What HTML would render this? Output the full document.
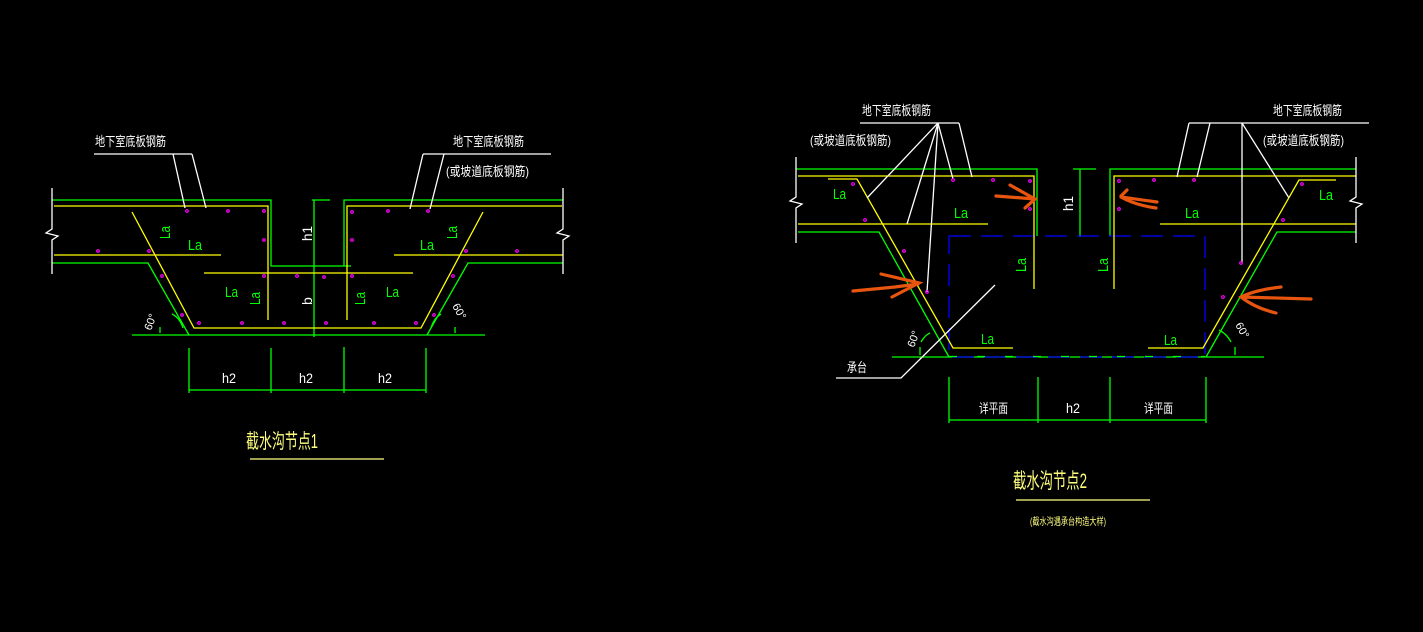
<!DOCTYPE html>
<html><head><meta charset="utf-8"><style>
html,body{margin:0;padding:0;background:#000;}
svg{display:block;}
text{font-family:"Liberation Sans","Noto Sans CJK SC",sans-serif;}
</style></head><body>
<svg width="1423" height="632" viewBox="0 0 1423 632" xmlns="http://www.w3.org/2000/svg">
<rect width="1423" height="632" fill="#000"/>
<g fill="none" stroke-width="1.3">
<!-- ===== LEFT DIAGRAM ===== -->
<g stroke="#00ff00">
<polyline points="52,200 271,200 271,266 351,266"/>
<polyline points="563,200 344,200 344,266"/>
<polyline points="52,263 148,263 189,335"/>
<polyline points="563,263 468,263 427,335"/>
<line x1="132" y1="335" x2="485" y2="335"/>
<line x1="314" y1="200" x2="314" y2="337"/>
<line x1="312" y1="200" x2="330" y2="200"/>
<line x1="189" y1="348" x2="189" y2="393"/>
<line x1="271" y1="348" x2="271" y2="393"/>
<line x1="344" y1="347" x2="344" y2="393"/>
<line x1="426" y1="348" x2="426" y2="393"/>
<line x1="189" y1="390" x2="426" y2="390"/>
<path d="M160,333 L160,327 M172,314 Q180,318 183,328"/>
<path d="M455,333 L455,327 M441,314 Q434,318 431,328"/>
</g>
<g stroke="#ffff00">
<polyline points="54,206 268,206 268,320"/>
<polyline points="562,206 347,206 347,320"/>
<line x1="54" y1="255" x2="221" y2="255"/>
<line x1="394" y1="255" x2="563" y2="255"/>
<line x1="204" y1="273" x2="413" y2="273"/>
<polyline points="132,212 194,328 421,328 483,212"/>
</g>
<g stroke="#fff">
<polyline points="52,188 52,229 46,233 58,236 52,240 52,274"/>
<polyline points="563,188 563,229 557,233 569,236 563,240 563,274"/>
<line x1="94" y1="154" x2="192" y2="154"/>
<line x1="173" y1="154" x2="185" y2="208"/>
<line x1="192" y1="154" x2="206" y2="208"/>
<line x1="423" y1="154" x2="551" y2="154"/>
<line x1="423" y1="154" x2="410" y2="209"/>
<line x1="444" y1="154" x2="430" y2="209"/>
</g>
<!-- ===== RIGHT DIAGRAM ===== -->
<g stroke="#00ff00">
<polyline points="796,169 1037,169 1037,236"/>
<polyline points="1356,169 1110,169 1110,236"/>
<polyline points="798,232 879,232 949,357"/>
<polyline points="1356,232 1277,232 1206,357"/>
<line x1="892" y1="357" x2="1264" y2="357"/>
<line x1="1080" y1="169" x2="1080" y2="237"/>
<line x1="1073" y1="169" x2="1096" y2="169"/>
<line x1="949" y1="377" x2="949" y2="423"/>
<line x1="1038" y1="377" x2="1038" y2="423"/>
<line x1="1110" y1="377" x2="1110" y2="423"/>
<line x1="1206" y1="377" x2="1206" y2="423"/>
<line x1="949" y1="420" x2="1206" y2="420"/>
<path d="M920,355 L920,347 M921,342 Q925,335 930,333"/>
<path d="M1235,355 L1235,347 M1219,330 Q1227,334 1231,342"/>
</g>
<g stroke="#0000ff">
<path d="M949,236 H1205 V357 H949 Z" stroke-dasharray="22,10"/>
</g>
<line x1="949" y1="356.5" x2="1205" y2="356.5" stroke="#00ff00" stroke-dasharray="8,20" stroke-width="1.3"/>
<g stroke="#ffff00">
<polyline points="798,176 1034,176 1034,289"/>
<polyline points="1356,176 1114,176 1114,289"/>
<line x1="798" y1="224" x2="988" y2="224"/>
<line x1="1160" y1="224" x2="1356" y2="224"/>
<polyline points="828,179 857,179 953,348 1013,348"/>
<polyline points="1336,180 1299,180 1203,348 1148,348"/>
</g>
<g stroke="#fff">
<polyline points="796,157 796,197 790,201 802,204 796,208 796,243"/>
<polyline points="1356,157 1356,197 1350,201 1362,204 1356,208 1356,243"/>
<line x1="860" y1="123" x2="959" y2="123"/>
<line x1="938" y1="123" x2="867" y2="198"/>
<line x1="938" y1="123" x2="907" y2="224"/>
<line x1="938" y1="123" x2="927" y2="292"/>
<line x1="938" y1="123" x2="953" y2="179"/>
<line x1="959" y1="123" x2="972" y2="177"/>
<line x1="1189" y1="123" x2="1369" y2="123"/>
<line x1="1189" y1="123" x2="1177" y2="177"/>
<line x1="1210" y1="123" x2="1197" y2="177"/>
<line x1="1242" y1="123" x2="1242" y2="263"/>
<line x1="1242" y1="123" x2="1289" y2="198"/>
<polyline points="836,378 901,378 995,285"/>
</g>
<!-- orange arrows -->
<g stroke="#e8550f" stroke-width="3.2" stroke-linecap="round">
<path d="M996,196 L1035,199 M1010,185 L1035,199 L1025,208"/>
<path d="M853,291 L895,287 L918,284 M881,274 L919,283 L892,297"/>
<path d="M1157,202 L1121,197 M1121,196 L1127,190 M1121,197 Q1135,205 1156,208"/>
<path d="M1311,299 L1241,297 M1281,287 Q1255,290 1241,297 Q1255,308 1276,313"/>
</g>
</g>
<!-- magenta dots -->
<g fill="none" stroke="#ff00ff" stroke-width="1.2">
<circle cx="187" cy="211" r="1.3"/><circle cx="228" cy="211" r="1.3"/><circle cx="264" cy="211" r="1.3"/>
<circle cx="264" cy="240" r="1.3"/><circle cx="98" cy="251" r="1.3"/><circle cx="149" cy="251" r="1.3"/>
<circle cx="162" cy="276" r="1.3"/><circle cx="264" cy="276" r="1.3"/><circle cx="297" cy="276" r="1.3"/>
<circle cx="324" cy="277" r="1.3"/><circle cx="352" cy="276" r="1.3"/><circle cx="182" cy="315" r="1.3"/>
<circle cx="199" cy="323" r="1.3"/><circle cx="242" cy="323" r="1.3"/><circle cx="284" cy="323" r="1.3"/>
<circle cx="326" cy="323" r="1.3"/><circle cx="374" cy="323" r="1.3"/><circle cx="416" cy="323" r="1.3"/>
<circle cx="434" cy="315" r="1.3"/><circle cx="453" cy="276" r="1.3"/><circle cx="466" cy="251" r="1.3"/>
<circle cx="517" cy="251" r="1.3"/><circle cx="352" cy="212" r="1.3"/><circle cx="388" cy="211" r="1.3"/>
<circle cx="428" cy="211" r="1.3"/><circle cx="352" cy="240" r="1.3"/>
<circle cx="853" cy="184" r="1.3"/><circle cx="953" cy="180" r="1.3"/><circle cx="993" cy="180" r="1.3"/>
<circle cx="1030" cy="181" r="1.3"/><circle cx="1030" cy="209" r="1.3"/><circle cx="865" cy="220" r="1.3"/>
<circle cx="904" cy="251" r="1.3"/><circle cx="927" cy="292" r="1.3"/><circle cx="1119" cy="181" r="1.3"/>
<circle cx="1154" cy="180" r="1.3"/><circle cx="1194" cy="180" r="1.3"/><circle cx="1119" cy="209" r="1.3"/>
<circle cx="1302" cy="184" r="1.3"/><circle cx="1283" cy="220" r="1.3"/><circle cx="1241" cy="263" r="1.3"/>
<circle cx="1223" cy="297" r="1.3"/>
</g>
<!-- green labels -->
<g fill="#00ff00" font-size="15">
<text x="188" y="250" textLength="14" lengthAdjust="spacingAndGlyphs">La</text>
<text x="420" y="250" textLength="14" lengthAdjust="spacingAndGlyphs">La</text>
<text x="225" y="297" textLength="13" lengthAdjust="spacingAndGlyphs">La</text>
<text x="386" y="297" textLength="13" lengthAdjust="spacingAndGlyphs">La</text>
<text transform="translate(170,239) rotate(-90)" textLength="13" lengthAdjust="spacingAndGlyphs">La</text>
<text transform="translate(457,239) rotate(-90)" textLength="13" lengthAdjust="spacingAndGlyphs">La</text>
<text transform="translate(260,305) rotate(-90)" textLength="13" lengthAdjust="spacingAndGlyphs">La</text>
<text transform="translate(365,305) rotate(-90)" textLength="13" lengthAdjust="spacingAndGlyphs">La</text>
<text x="833" y="199" textLength="13" lengthAdjust="spacingAndGlyphs">La</text>
<text x="954" y="218" textLength="14" lengthAdjust="spacingAndGlyphs">La</text>
<text x="1185" y="218" textLength="14" lengthAdjust="spacingAndGlyphs">La</text>
<text x="1319" y="200" textLength="14" lengthAdjust="spacingAndGlyphs">La</text>
<text x="981" y="344" textLength="13" lengthAdjust="spacingAndGlyphs">La</text>
<text x="1164" y="345" textLength="13" lengthAdjust="spacingAndGlyphs">La</text>
<text transform="translate(1026,272) rotate(-90)" textLength="14" lengthAdjust="spacingAndGlyphs">La</text>
<text transform="translate(1108,272) rotate(-90)" textLength="14" lengthAdjust="spacingAndGlyphs">La</text>
</g>
<!-- white labels -->
<g fill="#fff" font-size="14">
<text transform="translate(312,241) rotate(-90)" textLength="15" lengthAdjust="spacingAndGlyphs">h1</text>
<text transform="translate(312,305) rotate(-90)">b</text>
<text transform="translate(1073,211) rotate(-90)" textLength="15" lengthAdjust="spacingAndGlyphs">h1</text>
<text x="222" y="383" textLength="14" lengthAdjust="spacingAndGlyphs">h2</text>
<text x="299" y="383" textLength="14" lengthAdjust="spacingAndGlyphs">h2</text>
<text x="378" y="383" textLength="14" lengthAdjust="spacingAndGlyphs">h2</text>
<text x="1066" y="413" textLength="14" lengthAdjust="spacingAndGlyphs">h2</text>
<text x="979" y="413" font-size="13" textLength="29" lengthAdjust="spacingAndGlyphs">详平面</text>
<text x="1144" y="413" font-size="13" textLength="29" lengthAdjust="spacingAndGlyphs">详平面</text>
<text x="847" y="372" font-size="13" textLength="20" lengthAdjust="spacingAndGlyphs">承台</text>
<text x="95" y="146" font-size="13" textLength="71" lengthAdjust="spacingAndGlyphs">地下室底板钢筋</text>
<text x="453" y="146" font-size="13" textLength="71" lengthAdjust="spacingAndGlyphs">地下室底板钢筋</text>
<text x="446" y="176" font-size="13" textLength="83" lengthAdjust="spacingAndGlyphs">(或坡道底板钢筋)</text>
<text x="862" y="115" font-size="13" textLength="69" lengthAdjust="spacingAndGlyphs">地下室底板钢筋</text>
<text x="810" y="145" font-size="13" textLength="81" lengthAdjust="spacingAndGlyphs">(或坡道底板钢筋)</text>
<text x="1273" y="115" font-size="13" textLength="69" lengthAdjust="spacingAndGlyphs">地下室底板钢筋</text>
<text x="1263" y="145" font-size="13" textLength="81" lengthAdjust="spacingAndGlyphs">(或坡道底板钢筋)</text>
<text transform="translate(151,331) rotate(-70)" font-size="11">60°</text>
<text transform="translate(452,306) rotate(60)" font-size="11">60°</text>
<text transform="translate(914,348) rotate(-70)" font-size="11">60°</text>
<text transform="translate(1235,325) rotate(60)" font-size="11">60°</text>
</g>
<!-- titles -->
<g fill="#ffff80">
<text x="246" y="448" font-size="20" textLength="72" lengthAdjust="spacingAndGlyphs">截水沟节点1</text>
<text x="1013" y="488" font-size="21" textLength="74" lengthAdjust="spacingAndGlyphs">截水沟节点2</text>
<text x="1030" y="525" font-size="10" textLength="76" lengthAdjust="spacingAndGlyphs">(截水沟遇承台构造大样)</text>
</g>
<g stroke="#ffff80" stroke-width="1.2">
<line x1="250" y1="459" x2="384" y2="459"/>
<line x1="1016" y1="500" x2="1150" y2="500"/>
</g>
</svg>
</body></html>
